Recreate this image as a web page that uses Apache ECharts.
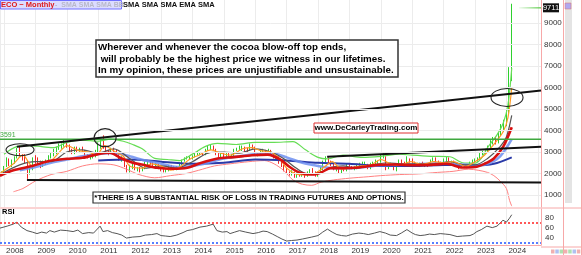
<!DOCTYPE html>
<html><head><meta charset="utf-8">
<script src="https://cdn.jsdelivr.net/npm/echarts@6/dist/echarts.min.js"></script>
<style>html,body{margin:0;padding:0;background:#fff;overflow:hidden}#c{width:582px;height:255px}</style>
</head><body><div id="c"></div>
<script>
// ---------- DATA ----------
// Monthly cocoa futures, first bar = Nov 2007, last bar = Mar 2024
const firstMonth = [2007, 10]; // year, 0-based month
const firstOpen = 2000;
const closes = [
  2050,2050,
  2300,2650,2450,2550,2700,3100,2850,2700,2550,2100,2200,2700,
  2600,2550,2350,2500,2550,2800,2850,3050,3200,3250,3350,3500,
  3300,3000,2950,3150,3050,3100,3050,2850,2800,2800,2800,3050,
  3300,3450,3250,3050,3000,3100,3050,2950,2650,2700,2350,2100,
  2300,2300,2200,2250,2150,2250,2400,2550,2500,2400,2450,2250,
  2150,2100,2150,2350,2300,2200,2300,2450,2600,2700,2750,2750,
  2800,2950,2950,2950,2900,3100,3200,3200,3100,2900,2850,2900,
  2850,2900,2800,2850,3100,3150,3200,3200,3150,3100,3350,3250,
  2900,2950,3050,3050,2950,3050,2950,2750,2750,2500,2350,2150,
  2050,1950,2050,1850,1950,1900,1950,1900,2000,2100,2050,1900,
  2050,2200,2500,2700,2500,2450,2200,2300,2050,2200,2150,2400,
  2300,2250,2250,2400,2450,2450,2450,2250,2450,2450,2550,2550,
  2800,2800,2300,2400,2450,2200,2300,2550,2500,2350,2650,2600,
  2500,2400,2400,2450,2400,2400,2350,2600,2700,2550,2400,2500,
  2600,2700,2550,2550,2500,2350,2300,2350,2300,2350,2500,2600,
  2600,2700,2900,2950,3050,3200,3500,3600,3450,3800,4200,4250,
  4850,6550,9711
];
const highs = [
  2150,2100,
  2350,2750,2700,2650,2800,3200,3300,2900,2900,2600,2300,2750,
  2850,2750,2600,2600,2650,2850,2950,3150,3250,3400,3400,3550,
  3450,3350,3150,3250,3250,3200,3250,3100,2900,2900,2950,3100,
  3450,3600,3775,3300,3100,3200,3200,3100,3000,2800,2750,2400,
  2400,2450,2450,2300,2300,2300,2550,2600,2600,2550,2500,2450,
  2300,2200,2200,2400,2400,2350,2350,2500,2650,2750,2800,2800,
  2850,3000,3050,3000,3000,3150,3300,3350,3300,3150,2950,3000,
  2950,2950,2950,2900,3150,3200,3300,3300,3250,3200,3400,3350,
  3250,3000,3100,3150,3100,3150,3100,3000,2850,2800,2550,2400,
  2250,2100,2150,2100,2050,2050,2050,2000,2100,2200,2250,2100,
  2100,2300,2600,2800,2750,2600,2500,2350,2300,2250,2300,2450,
  2450,2350,2350,2450,2500,2550,2550,2450,2500,2550,2650,2600,
  2900,2950,2800,2450,2500,2450,2350,2650,2650,2550,2800,2700,
  2700,2550,2500,2500,2550,2450,2450,2650,2750,2750,2600,2550,
  2700,2800,2750,2600,2600,2500,2400,2450,2400,2400,2550,2650,
  2700,2750,2950,3050,3150,3300,3550,3700,3700,3900,4300,4500,
  4950,6950,9900
];
const lows = [
  1950,1950,
  2050,2300,2350,2300,2450,2700,2800,2600,2450,1750,1950,2150,
  2450,2400,2250,2300,2400,2500,2700,2800,2900,3100,3150,3250,
  3200,2950,2900,2900,2950,2950,2950,2800,2700,2650,2700,2750,
  3000,3150,3150,3000,2850,2950,2950,2850,2600,2550,2300,2050,
  2050,2200,2150,2100,2050,2100,2200,2350,2400,2350,2300,2200,
  2100,2050,2050,2100,2250,2150,2150,2250,2400,2550,2650,2650,
  2650,2750,2850,2850,2850,2850,3050,3100,3050,2850,2750,2750,
  2750,2750,2750,2750,2800,3050,3100,3050,3000,3000,3050,3150,
  2850,2800,2850,2950,2900,2950,2900,2700,2650,2450,2300,2100,
  2000,1900,1900,1800,1800,1850,1850,1800,1850,1950,2000,1850,
  1850,2000,2150,2450,2450,2350,2150,2100,2000,2000,2100,2100,
  2200,2200,2150,2200,2350,2350,2350,2200,2200,2400,2400,2450,
  2500,2700,2150,2200,2300,2150,2100,2300,2450,2300,2350,2500,
  2450,2350,2350,2300,2350,2300,2300,2350,2550,2500,2350,2400,
  2450,2550,2500,2450,2400,2300,2200,2250,2250,2250,2300,2450,
  2500,2550,2650,2850,2900,3000,3150,3350,3350,3400,3750,3950,
  4200,4800,6300
];
// Indicator lines: [decimal year, value]
const smaOrange = [[2007.87,2000],[2008.3,2450],[2008.6,2850],[2008.9,2350],[2009.2,2500],[2009.5,2600],[2009.8,3050],[2010.0,3300],[2010.4,3050],[2010.7,3000],[2010.95,2850],[2011.2,3300],[2011.5,3050],[2011.8,2800],[2012.0,2350],[2012.4,2250],[2012.7,2450],[2013.0,2350],[2013.3,2150],[2013.6,2300],[2013.9,2650],[2014.2,2850],[2014.6,3100],[2014.9,2950],[2015.2,2850],[2015.6,3150],[2015.9,3200],[2016.2,3050],[2016.5,3000],[2016.8,2650],[2017.0,2250],[2017.3,1980],[2017.6,1930],[2017.9,2000],[2018.2,2300],[2018.45,2550],[2018.75,2200],[2019.0,2250],[2019.4,2350],[2019.7,2400],[2020.0,2650],[2020.3,2450],[2020.6,2380],[2020.95,2550],[2021.3,2420],[2021.7,2550],[2022.0,2500],[2022.3,2550],[2022.7,2330],[2023.0,2550],[2023.3,2850],[2023.6,3350],[2023.9,3950],[2024.05,4600],[2024.17,6000]];
const smaGrey = [[2007.87,1950],[2008.5,2400],[2009.0,2550],[2009.5,2550],[2010.0,3000],[2010.5,3100],[2011.0,2950],[2011.5,3150],[2012.0,2700],[2012.5,2250],[2013.0,2350],[2013.5,2250],[2014.0,2550],[2014.5,2950],[2015.0,3000],[2015.5,2950],[2016.0,3150],[2016.5,3000],[2016.9,2700],[2017.3,2250],[2017.7,1960],[2018.0,2000],[2018.4,2280],[2018.8,2350],[2019.2,2250],[2019.7,2380],[2020.2,2500],[2020.7,2450],[2021.2,2450],[2021.7,2450],[2022.2,2550],[2022.7,2400],[2023.0,2400],[2023.4,2700],[2023.8,3250],[2024.0,3700],[2024.17,4700]];
const smaRed = [[2007.87,1890],[2008.3,2150],[2008.92,2357],[2009.46,2591],[2010.0,2685],[2010.5,2731],[2011.05,2918],[2011.37,2965],[2011.7,2731],[2012.1,2497],[2012.43,2404],[2012.87,2263],[2013.38,2217],[2013.83,2263],[2014.24,2480],[2014.8,2700],[2015.3,2760],[2015.9,2850],[2016.4,2880],[2016.8,2650],[2017.1,2300],[2017.4,2050],[2017.8,1950],[2018.1,2050],[2018.4,2250],[2018.8,2250],[2019.3,2280],[2019.9,2400],[2020.5,2420],[2021.0,2380],[2021.6,2400],[2022.1,2450],[2022.6,2280],[2023.0,2300],[2023.3,2450],[2023.6,2700],[2023.9,3250],[2024.17,4150]];
const smaBlue = [[2008.5,2150],[2009.0,2300],[2009.5,2500],[2010.0,2650],[2010.5,2800],[2011.0,2900],[2011.5,2950],[2012.0,2800],[2012.5,2600],[2013.0,2450],[2013.5,2300],[2014.0,2350],[2014.5,2500],[2015.0,2700],[2015.5,2800],[2016.0,2900],[2016.5,2950],[2017.0,2750],[2017.5,2500],[2018.0,2350],[2018.5,2250],[2019.0,2250],[2019.5,2300],[2020.0,2380],[2020.5,2400],[2021.0,2420],[2021.5,2450],[2022.0,2480],[2022.5,2430],[2023.0,2380],[2023.4,2450],[2023.8,2800],[2024.17,3600]];
const emaNavy = [[2011.0,2600],[2012.0,2650],[2013.0,2550],[2014.0,2450],[2015.0,2500],[2016.0,2650],[2017.0,2600],[2018.0,2500],[2019.0,2450],[2020.0,2350],[2021.0,2350],[2022.0,2400],[2023.0,2380],[2023.6,2450],[2024.17,2750]];
const bbUpper = [[2008.0,2900],[2008.4,3250],[2008.8,3300],[2009.2,3250],[2009.6,3200],[2010.0,3450],[2010.5,3550],[2011.0,3500],[2011.4,3600],[2011.8,3500],[2012.1,3350],[2012.4,3150],[2012.8,2700],[2013.2,2650],[2013.6,2600],[2014.0,2900],[2014.4,3250],[2014.8,3400],[2015.4,3350],[2016.0,3450],[2016.6,3450],[2017.2,3480],[2017.6,3100],[2018.0,2750],[2018.3,2680],[2018.8,2850],[2019.4,2750],[2020.0,2800],[2020.6,2900],[2021.0,2850],[2021.6,2800],[2022.2,2780],[2022.6,2500],[2023.0,2480],[2023.2,2700],[2023.4,3200],[2023.7,3800],[2023.9,4350],[2024.05,5200],[2024.17,6900]];
const bbLower = [[2008.3,1150],[2008.6,1300],[2009.0,1650],[2009.5,1950],[2010.0,2100],[2010.5,2350],[2011.0,2450],[2011.5,2400],[2011.9,2200],[2012.3,1950],[2012.8,1800],[2013.3,1900],[2013.8,2000],[2014.2,2150],[2014.7,2350],[2015.2,2450],[2015.8,2550],[2016.3,2600],[2016.6,2450],[2016.9,2150],[2017.2,1700],[2017.5,1500],[2017.8,1450],[2018.1,1600],[2018.5,1700],[2019.0,1780],[2019.6,1850],[2020.0,1900],[2020.6,1950],[2021.2,1980],[2021.8,2050],[2022.3,2100],[2022.8,2200],[2023.1,2150],[2023.4,2050],[2023.6,1900],[2023.8,1650],[2024.0,1300],[2024.1,750],[2024.17,480]];
const rsi = [[2007.87,60],[2008.1,64],[2008.29,68],[2008.41,72],[2008.55,62],[2008.73,55],[2008.9,52],[2009.05,49],[2009.2,52],[2009.35,50],[2009.46,55],[2009.6,52],[2009.8,56],[2010.0,55],[2010.2,53],[2010.35,56],[2010.5,49],[2010.7,51],[2010.85,50],[2011.06,64],[2011.15,53],[2011.3,55],[2011.45,51],[2011.6,49],[2011.75,46],[2011.9,40],[2012.1,42],[2012.33,43],[2012.5,46],[2012.7,47],[2012.87,49],[2013.0,45],[2013.15,44],[2013.29,43],[2013.5,46],[2013.7,51],[2013.83,55],[2014.0,57],[2014.24,62],[2014.45,64],[2014.66,68],[2014.78,55],[2014.95,52],[2015.1,53],[2015.2,49],[2015.35,52],[2015.5,55],[2015.7,52],[2015.93,49],[2016.1,51],[2016.25,54],[2016.38,53],[2016.55,48],[2016.7,43],[2016.85,38],[2017.0,34],[2017.15,35],[2017.33,36],[2017.5,38],[2017.65,40],[2017.8,42],[2018.0,45],[2018.15,52],[2018.3,58],[2018.45,52],[2018.6,47],[2018.75,45],[2018.9,44],[2019.1,48],[2019.3,50],[2019.45,49],[2019.6,47],[2019.8,50],[2019.97,53],[2020.15,50],[2020.3,46],[2020.5,45],[2020.65,50],[2020.83,57],[2021.0,50],[2021.1,47],[2021.25,45],[2021.4,46],[2021.55,48],[2021.7,47],[2021.89,49],[2022.05,48],[2022.2,47],[2022.43,43],[2022.6,44],[2022.84,45],[2022.95,48],[2023.06,53],[2023.2,57],[2023.38,64],[2023.55,61],[2023.7,64],[2023.8,70],[2023.89,76],[2024.0,72],[2024.1,80],[2024.17,87]];
// Annotation lines: [decimal year, value]
const trendUpper = [[2008.41,3246],[2025.1,5866]];
const trendLower = [[2018.29,2778],[2025.1,3246]];
const supportLine = [[2008.73,1700],[2025.1,1580]];
const resistance = 3591;
const lastPrice = 9711;
const priceTicks = [1000,2000,3000,4000,5000,6000,7000,8000,9000];
const yearLabels = [2008,2009,2010,2011,2012,2013,2014,2015,2016,2017,2018,2019,2020,2021,2022,2023,2024];
const rsiTicks = [40,60,80];
const rsiHigh = 70, rsiLow = 30;
const ellipseCenters = [[2008.51,3106],[2011.22,3667],[2024.02,5538]];
const noteLines = ['Wherever and whenever the cocoa blow-off top ends,',' will probably be the highest price we witness in our lifetimes.','In my opinion, these prices are unjustifiable and unsustainable.'];
const urlText = 'www.DeCarleyTrading.com';
const disclaimer = '*THERE IS A SUBSTANTIAL RISK OF LOSS IN TRADING FUTURES AND OPTIONS.';

// ---------- BUILD ----------
function t(y){const Y=Math.floor(y);const s=Date.UTC(Y,0,1),e=Date.UTC(Y+1,0,1);return s+(y-Y)*(e-s);}
const xMin=t(2007.873), xMax=t(2025.1);
const months = closes.map((_,i)=>Date.UTC(firstMonth[0], firstMonth[1]+i, 1));
const ohlc = closes.map((c,i)=>[months[i], i?closes[i-1]:firstOpen, c, lows[i], highs[i]]);
const P = a=>a.map(([y,v])=>[t(y),v]);
const FONT='"Liberation Sans", Arial, sans-serif';
const YEAR=365.25*24*3600*1000;
const PINK='#f7a8a8';

const chart = echarts.init(document.getElementById('c'), null, {renderer:'canvas'});
function line(data, color, width, opts){
  return Object.assign({type:'line', data:P(data), showSymbol:false, symbol:'none', smooth:0.3, silent:true,
    lineStyle:{color, width}, xAxisIndex:0, yAxisIndex:0, animation:false}, opts||{});
}
function straight(data,color,width){
  return {type:'line', data:P(data), showSymbol:false, symbol:'none', silent:true, lineStyle:{color,width}, xAxisIndex:0,yAxisIndex:0, animation:false, z:4};
}
const option = {
  animation:false,
  useUTC:true,
  backgroundColor:'#fff',
  grid:[
    {left:0, right:41, top:0, height:207, containLabel:false},
    {left:0, right:41, top:209, height:38, containLabel:false}
  ],
  xAxis:[
    {type:'time', gridIndex:0, min:xMin, max:xMax, minInterval:YEAR, maxInterval:YEAR,
     axisLine:{show:false}, axisTick:{show:false}, axisLabel:{show:false},
     splitLine:{show:true, lineStyle:{color:'#ececec', width:1}}},
    {type:'time', gridIndex:1, min:xMin, max:xMax, minInterval:YEAR, maxInterval:YEAR,
     axisLine:{show:true, lineStyle:{color:PINK}}, axisTick:{show:false},
     axisLabel:{show:true, fontSize:8, color:'#333', fontFamily:FONT, align:'left', margin:2, padding:[0,0,0,2],
       showMinLabel:false, showMaxLabel:false,
       formatter:(v)=>{const d=new Date(v);const y=d.getUTCFullYear();return (d.getUTCMonth()===0&&d.getUTCDate()===1&&yearLabels.includes(y))?String(y):'';}},
     splitLine:{show:true, lineStyle:{color:'#ececec', width:1}}}
  ],
  yAxis:[
    {type:'value', gridIndex:0, position:'right', min:440, max:10075,
     axisLine:{show:true, lineStyle:{color:PINK}}, axisTick:{show:false},
     axisLabel:{show:true, customValues:priceTicks, formatter:v=>String(v), fontSize:8, color:'#333', fontFamily:FONT, margin:3},
     splitLine:{show:false}},
    {type:'value', gridIndex:1, position:'right', min:26, max:98.5,
     axisLine:{show:true, lineStyle:{color:PINK}}, axisTick:{show:false},
     axisLabel:{show:true, customValues:rsiTicks, formatter:v=>String(v), fontSize:8, color:'#333', fontFamily:FONT, margin:4},
     splitLine:{show:false}}
  ],
  series:[
    {type:'line', data:[], xAxisIndex:0, yAxisIndex:0, silent:true, z:0,
     markLine:{silent:true, symbol:['none','none'], label:{show:false}, animation:false,
       lineStyle:{color:'#ececec', type:'solid', width:1},
       data:priceTicks.map(v=>({yAxis:v}))}},
    {type:'candlestick', data:ohlc, encode:{x:0, y:[1,2,3,4]}, xAxisIndex:0, yAxisIndex:0, barWidth:1, silent:true,
     itemStyle:{color:'#2fd02f', color0:'#f02828', borderColor:'#2fd02f', borderColor0:'#f02828', borderWidth:1}, z:2},
    straight([[2007.873,resistance],[2025.1,resistance]],'#3fa83f',1.5),
    line(bbUpper,'#66dd55',1.2),
    line(bbLower,'#ff8080',1),
    line(emaNavy,'#2a3aa8',2),
    line(smaBlue,'#6f8ff0',2.6,{lineStyle:{color:'#6f8ff0',width:2.6,opacity:0.85}}),
    line(smaGrey,'#555555',1.2),
    line(smaOrange,'#ff9a22',1.2),
    line(smaRed,'#d81010',2.6),
    straight(trendUpper,'#111',2),
    straight(trendLower,'#111',2),
    straight(supportLine,'#111',2),
    {type:'line', data:P(rsi), xAxisIndex:1, yAxisIndex:1, showSymbol:false, symbol:'none', silent:true,
     lineStyle:{color:'#555', width:1},
     markLine:{silent:true, symbol:['none','none'], label:{show:false}, animation:false,
       data:[{yAxis:rsiHigh, lineStyle:{color:'#ff3030', type:[2,2], width:1.6}},
             {yAxis:rsiLow, lineStyle:{color:'#3060ff', type:[2,2], width:1.6}}]}}
  ]
};
chart.setOption(option);

// ---------- ANNOTATIONS ----------
const g = [];
// top-left legend
g.push({type:'rect', shape:{x:0.5,y:0.5,width:121,height:8.5}, style:{fill:'#dcdcff', stroke:'#7070ff', lineWidth:1}, z:100});
g.push({type:'text', x:1, y:1, style:{text:'ECO ~ Monthly', fill:'#e01818', font:'bold 7.5px '+FONT}, z:101});
g.push({type:'text', x:55, y:1.2, style:{text:'-  SMA SMA SMA BB', fill:'#b8b8c8', font:'bold 7px '+FONT}, z:101});
g.push({type:'text', x:123, y:1, style:{text:'SMA SMA SMA EMA SMA', fill:'#111', font:'bold 7.5px '+FONT}, z:101});
// main note
g.push({type:'rect', shape:{x:96,y:40,width:302,height:37}, style:{fill:'#fff', stroke:'#333', lineWidth:1.5}, z:100});
noteLines.forEach((s,i)=>g.push({type:'text', x:98, y:42.5+i*11.5, style:{text:s, fill:'#000', font:'bold 9.8px '+FONT}, z:101}));
// url box
g.push({type:'rect', shape:{x:314,y:123,width:104,height:10}, style:{fill:'#fff', stroke:'#e03030', lineWidth:1}, z:100});
g.push({type:'text', x:366, y:128, style:{text:urlText, fill:'#000', font:'bold 8px '+FONT, align:'center', verticalAlign:'middle'}, z:101});
// disclaimer
g.push({type:'rect', shape:{x:93,y:192,width:312,height:11}, style:{fill:'#fff', stroke:'#333', lineWidth:1.2}, z:100});
g.push({type:'text', x:249, y:197.8, style:{text:disclaimer, fill:'#000', font:'bold 7.9px '+FONT, align:'center', verticalAlign:'middle'}, z:101});
// RSI title
g.push({type:'text', x:2, y:207.5, style:{text:'RSI', fill:'#000', font:'bold 7.5px '+FONT}, z:101});
// resistance label
const pr = chart.convertToPixel({gridIndex:0},[xMin,resistance]);
g.push({type:'text', x:0, y:pr[1]-8, style:{text:String(resistance), fill:'#3fa83f', font:'7px '+FONT}, z:101});
// last price tag
const lp = chart.convertToPixel({gridIndex:0},[xMax,lastPrice]);
g.push({type:'line', shape:{x1:519,y1:lp[1],x2:541,y2:lp[1]}, style:{stroke:{type:'linear',x:0,y:0,x2:1,y2:0,colorStops:[{offset:0,color:'rgba(80,200,60,0)'},{offset:1,color:'rgba(80,200,60,0.9)'}]}, lineWidth:1.5}, z:100});
g.push({type:'rect', shape:{x:543,y:lp[1]-4.5,width:16,height:9}, style:{fill:'#111'}, z:100});
g.push({type:'text', x:551, y:lp[1], style:{text:String(lastPrice), fill:'#fff', font:'7.5px '+FONT, align:'center', verticalAlign:'middle'}, z:101});
// ellipses
const radii=[[14,6],[11,9],[16,9]];
ellipseCenters.forEach(([y,v],i)=>{const p=chart.convertToPixel({gridIndex:0},[t(y),v]);
  g.push({type:'ellipse', shape:{cx:p[0],cy:p[1],rx:radii[i][0],ry:radii[i][1]}, style:{fill:null, stroke:'#222', lineWidth:1.1}, z:90});});
// frame pieces on the right
g.push({type:'line', shape:{x1:0,y1:208,x2:582,y2:208}, style:{stroke:PINK, lineWidth:1}, z:50});
g.push({type:'line', shape:{x1:541,y1:247,x2:582,y2:247}, style:{stroke:PINK, lineWidth:1}, z:50});
g.push({type:'line', shape:{x1:563.5,y1:0,x2:563.5,y2:255}, style:{stroke:PINK, lineWidth:1}, z:50});
g.push({type:'line', shape:{x1:581.5,y1:0,x2:581.5,y2:255}, style:{stroke:PINK, lineWidth:1}, z:50});
g.push({type:'rect', shape:{x:565,y:0,width:7,height:203}, style:{fill:'#e4e4e4'}, z:50});
g.push({type:'rect', shape:{x:565,y:3,width:6,height:6}, style:{fill:'#b0a8f0', stroke:'#e07070', lineWidth:0.5}, z:51});
const btnCols=['#f0b0b0','#b0c0f0','#b0e0b0','#f0b0b0','#b0e0b0','#b0c0f0','#f0b0b0'];
btnCols.forEach((c,i)=>g.push({type:'rect', shape:{x:551+i*4.3,y:249.5,width:3.5,height:4}, style:{fill:c}, z:51}));
chart.setOption({graphic:g});
</script>
</body></html>
